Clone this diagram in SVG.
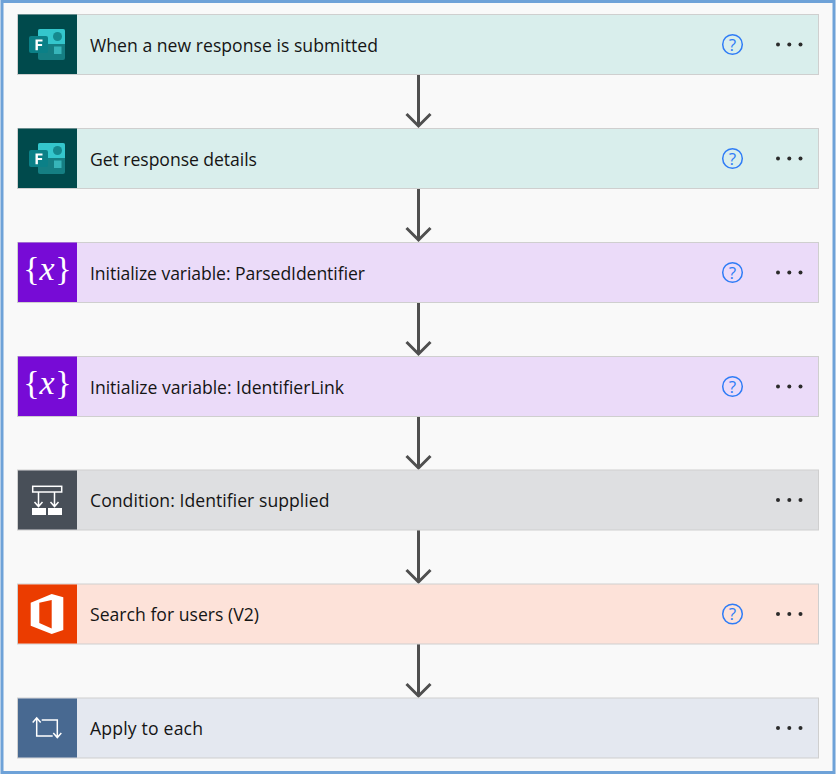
<svg xmlns="http://www.w3.org/2000/svg" xmlns:xlink="http://www.w3.org/1999/xlink" width="836" height="774" viewBox="0 0 836 774">
<style>
.card{stroke:#cfcfcf;stroke-width:1}
.label{font-family:"Open Sans","Noto Sans","Liberation Sans",sans-serif;font-size:17.6px;fill:#151515}
.dot{fill:#2b2b2b}
.conn{fill:none;stroke:#4f4f4f;stroke-width:3}
.white{fill:#fff}
.ln{fill:none;stroke:#fff;stroke-width:1.500}
</style>
<defs>
<g id="more"><circle class="dot" cx="778" cy="0" r="2"/><circle class="dot" cx="789.300" cy="0" r="2"/><circle class="dot" cx="800.500" cy="0" r="2"/></g>
<g id="help"><circle cx="732.500" cy="0" r="9.800" fill="none" stroke="#2f7cf6" stroke-width="1.500"/><text x="732.500" y="6" text-anchor="middle" font-family="'Open Sans',sans-serif" font-size="17" fill="#2f7cf6">?</text></g>
<g id="forms">
<rect x="18" y="-30" width="59" height="59.500" fill="#004a4c"/>
<rect x="38" y="-15.500" width="27" height="31" rx="2" fill="#157f83"/>
<path d="M38-13.500a2 2 0 0 1 2-2h23a2 2 0 0 1 2 2v13h-27z" fill="#34c6cc"/>
<circle cx="57.500" cy="-8" r="4.500" fill="#15898e"/>
<rect x="54" y="2" width="7.500" height="7.500" fill="#37b5b9"/>
<rect x="29" y="-8.500" width="19" height="17" rx="2" fill="#0b8087"/>
<path class="white" d="M35.500-5h7v2.100h-4.600v2.300h4.200v2h-4.200v4.400h-2.400z"/>
</g>
<g id="vars">
<rect x="18" y="-30" width="59" height="59.500" fill="#770bd6"/>
<text x="31.500" y="7.500" text-anchor="middle" font-family="'Liberation Serif',serif" font-size="34" class="white">{</text>
<text x="47" y="7.500" text-anchor="middle" font-family="'Liberation Serif',serif" font-style="italic" font-size="34" class="white">x</text>
<text x="63.500" y="7.500" text-anchor="middle" font-family="'Liberation Serif',serif" font-size="34" class="white">}</text>
</g>
</defs>
<rect width="836" height="774" fill="#f9f9f9"/>
<rect x="2" y="1.500" width="832" height="771" fill="none" stroke="#6ea2d8" stroke-width="3"/>
<g id="connectors">
<path class="conn" d="M418.500 75V125M406.500 114L418.500 126L430.500 114"/>
<path class="conn" d="M418.500 189V239M406.500 228L418.500 240L430.500 228"/>
<path class="conn" d="M418.500 303V353M406.500 342L418.500 354L430.500 342"/>
<path class="conn" d="M418.500 417V467M406.500 456L418.500 468L430.500 456"/>
<path class="conn" d="M418.500 530V581M406.500 570L418.500 582L430.500 570"/>
<path class="conn" d="M418.500 644V695M406.500 684L418.500 696L430.500 684"/>
</g>
<g id="node1" transform="translate(0 44.500)">
<rect class="card" x="17.500" y="-30" width="801" height="60" fill="#d9eeec"/>
<use xlink:href="#forms" href="#forms"/>
<text class="label" x="90" y="7" textLength="288">When a new response is submitted</text>
<use xlink:href="#help" href="#help"/><use xlink:href="#more" href="#more"/>
</g>
<g id="node2" transform="translate(0 158.500)">
<rect class="card" x="17.500" y="-30" width="801" height="60" fill="#d9eeec"/>
<use xlink:href="#forms" href="#forms"/>
<text class="label" x="90" y="7" textLength="167">Get response details</text>
<use xlink:href="#help" href="#help"/><use xlink:href="#more" href="#more"/>
</g>
<g id="node3" transform="translate(0 272.500)">
<rect class="card" x="17.500" y="-30" width="801" height="60" fill="#ebdbf9"/>
<use xlink:href="#vars" href="#vars"/>
<text class="label" x="90" y="7" textLength="275">Initialize variable: ParsedIdentifier</text>
<use xlink:href="#help" href="#help"/><use xlink:href="#more" href="#more"/>
</g>
<g id="node4" transform="translate(0 386.500)">
<rect class="card" x="17.500" y="-30" width="801" height="60" fill="#ebdbf9"/>
<use xlink:href="#vars" href="#vars"/>
<text class="label" x="90" y="7" textLength="254">Initialize variable: IdentifierLink</text>
<use xlink:href="#help" href="#help"/><use xlink:href="#more" href="#more"/>
</g>
<g id="node5" transform="translate(0 500)">
<rect class="card" x="17.500" y="-30" width="801" height="60" fill="#dedfe1"/>
<rect x="18" y="-29.500" width="59" height="59" fill="#484f58"/>
<rect x="32.700" y="-13.700" width="29" height="5.700" fill="none" stroke="#fff" stroke-width="1.500"/>
<path class="ln" d="M38.500-8V7M54.500-8V7M34.500 2L38.500 6.500L42.500 2M50.500 2L54.500 6.500L58.500 2"/>
<rect class="white" x="32" y="8" width="14" height="7"/>
<rect class="white" x="48" y="8" width="14" height="7"/>
<text class="label" x="90" y="7" textLength="239.500">Condition: Identifier supplied</text>
<use xlink:href="#more" href="#more"/>
</g>
<g id="node6" transform="translate(0 614)">
<rect class="card" x="17.500" y="-30" width="801" height="60" fill="#fde2d9"/>
<rect x="18" y="-29.500" width="59" height="59" fill="#eb3c00"/>
<path class="white" fill-rule="evenodd" d="M30.700-11.300L51.700-20L63.300-16.700V16L51.700 20L30.700 11.700ZM39.300-11.300L51.700-14V14.500L39.300 9Z"/>
<text class="label" x="90" y="7" textLength="169">Search for users (V2)</text>
<use xlink:href="#help" href="#help"/><use xlink:href="#more" href="#more"/>
</g>
<g id="node7" transform="translate(0 728)">
<rect class="card" x="17.500" y="-30" width="801" height="60" fill="#e4e8f0"/>
<rect x="18" y="-29.500" width="59" height="59" fill="#486991"/>
<path class="ln" d="M36.700-9.500V8H52.700M41.700-8H57.300V9.500M32.700-5.500L36.700-10L40.700-5.500M53.300 5L57.300 9.500L61.300 5"/>
<text class="label" x="90" y="7" textLength="113">Apply to each</text>
<use xlink:href="#more" href="#more"/>
</g>
</svg>
